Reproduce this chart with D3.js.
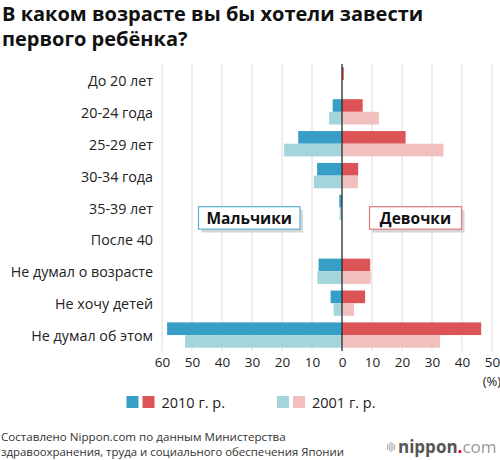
<!DOCTYPE html>
<html>
<head>
<meta charset="utf-8">
<script src="https://cdn.jsdelivr.net/npm/d3@7"></script>
<style>
body { margin:0; background:#fff; }
svg { font-family: "Open Sans", "Noto Sans", sans-serif; }
</style>
</head>
<body>
<svg id="chart"></svg>
<script>
// data (%)
var categories = ["До 20 лет","20-24 года","25-29 лет","30-34 года","35-39 лет","После 40","Не думал о возрасте","Не хочу детей","Не думал об этом"];
var boys2010  = [0, 3.1, 14.6, 8.3, 0.9, 0, 7.8, 3.8, 58.3];
var boys2001  = [0, 4.3, 19.3, 9.4, 0.8, 0, 8.2, 2.8, 52.3];
var girls2010 = [0.6, 6.9, 21.2, 5.4, 0, 0, 9.4, 7.7, 46.4];
var girls2001 = [0, 12.3, 33.8, 5.3, 0, 0, 9.6, 4.0, 32.7];
var tickValues = [-60,-50,-40,-30,-20,-10,0,10,20,30,40,50];
var years = ["2010 г. р.", "2001 г. р."];

var colBoys = ["#379fc5", "#a4d5dc"];
var colGirls = ["#dc5456", "#f2bfbf"];

var svg = d3.select("#chart").attr("width", 500).attr("height", 460);

// title
svg.append("text").attr("x", 2).attr("y", 21)
  .style("font-size", "20px").style("font-weight", "bold").attr("fill", "#111")
  .text("В каком возрасте вы бы хотели завести");
svg.append("text").attr("x", 2).attr("y", 46)
  .style("font-size", "20px").style("font-weight", "bold").attr("fill", "#111")
  .text("первого ребёнка?");

var x = d3.scaleLinear().domain([-60, 50]).range([162, 492]);
var y = d3.scaleBand().domain(categories).range([64, 351]);
var sub = d3.scaleBand().domain(["2010","2001"]).range([0, y.bandwidth()]).paddingOuter(0.26);

// grid
svg.selectAll("line.grid").data(tickValues).enter().append("line")
  .attr("class","grid")
  .attr("x1", function(d){ return x(d); }).attr("x2", function(d){ return x(d); })
  .attr("y1", 64).attr("y2", 351)
  .attr("stroke", "#dcdcdc").attr("stroke-width", 1);

// bars
var series = [
  {vals: boys2010, key:"2010", sign:-1, color: colBoys[0]},
  {vals: boys2001, key:"2001", sign:-1, color: colBoys[1]},
  {vals: girls2010, key:"2010", sign:1, color: colGirls[0]},
  {vals: girls2001, key:"2001", sign:1, color: colGirls[1]}
];
series.forEach(function(s){
  svg.append("g").selectAll("rect").data(s.vals).enter().append("rect")
    .attr("x", function(d){ return s.sign < 0 ? x(-d) : x(0); })
    .attr("width", function(d){ return Math.abs(x(d) - x(0)); })
    .attr("y", function(d, i){ return y(categories[i]) + sub(s.key); })
    .attr("height", sub.bandwidth())
    .attr("fill", s.color);
});

// zero line
svg.append("line").attr("x1", x(0)).attr("x2", x(0)).attr("y1", 64).attr("y2", 351)
  .attr("stroke", "#222").attr("stroke-width", 1.2);

// category labels
var yAxis = d3.axisLeft(y).tickSize(0).tickPadding(0);
var yg = svg.append("g").attr("transform", "translate(153,1.5)").call(yAxis);
yg.select(".domain").remove();
yg.selectAll("text").style("font-size", "14.3px").attr("fill", "#222")
  .attr("font-family", "Open Sans");

// x axis
var xAxis = d3.axisBottom(x).tickValues(tickValues).tickSize(0).tickPadding(0)
  .tickFormat(function(d){ return Math.abs(d); });
var xg = svg.append("g").attr("transform", "translate(0,357)").call(xAxis);
xg.select(".domain").remove();
xg.selectAll("text").style("font-size", "13.5px").attr("fill", "#222")
  .attr("font-family", "Open Sans");
svg.append("text").attr("x", x(50)).attr("y", 386).attr("text-anchor", "middle")
  .style("font-size", "13px").attr("fill", "#222").text("(%)");

// gender boxes
function labelBox(x0, x1, stroke, txt){
  svg.append("rect").attr("x", x0 + 3).attr("y", 210).attr("width", x1 - x0).attr("height", 22.5)
    .attr("fill", "#bbb").attr("opacity", 0.6);
  svg.append("rect").attr("x", x0).attr("y", 206.7).attr("width", x1 - x0).attr("height", 22.5)
    .attr("fill", "#fff").attr("stroke", stroke).attr("stroke-width", 1.2);
  svg.append("text").attr("x", (x0 + x1) / 2).attr("y", 223.5).attr("text-anchor", "middle")
    .style("font-size", "15.5px").style("font-weight", "bold").attr("fill", "#111").text(txt);
}
labelBox(198.5, 300, "#5ab3d2", "Мальчики");
labelBox(369.5, 461.5, "#e07a7c", "Девочки");

// legend
var legX = [126.5, 277];
years.forEach(function(yr, i){
  svg.append("rect").attr("x", legX[i]).attr("y", 396).attr("width", 12).attr("height", 12).attr("fill", colBoys[i]);
  svg.append("rect").attr("x", legX[i] + 16).attr("y", 396).attr("width", 12).attr("height", 12).attr("fill", colGirls[i]);
  svg.append("text").attr("x", legX[i] + 35).attr("y", 407.5)
    .style("font-size", "14.5px").attr("fill", "#222").text(yr);
});

// source
svg.append("text").attr("x", 1).attr("y", 440.5).style("font-size", "11.6px").attr("fill", "#333")
  .text("Составлено Nippon.com по данным Министерства");
svg.append("text").attr("x", 1).attr("y", 456).style("font-size", "11.4px").attr("fill", "#333")
  .text("здравоохранения, труда и социального обеспечения Японии");

// logo
var logo = svg.append("g");
[0,1,2,3,4].forEach(function(k){
  var h = [5, 8, 10, 8, 5][k];
  logo.append("rect").attr("x", 387 + k * 1.8).attr("y", 447 - h / 2).attr("width", 1).attr("height", h).attr("fill", "#aaa");
});
var lt = logo.append("text").attr("x", 398).attr("y", 453).style("font-size", "17px");
lt.append("tspan").attr("fill", "#555").style("font-weight", "bold").text("nippon");
lt.append("tspan").attr("fill", "#e60012").style("font-weight", "bold").text(".");
lt.append("tspan").attr("fill", "#999").text("com");
</script>
</body>
</html>
